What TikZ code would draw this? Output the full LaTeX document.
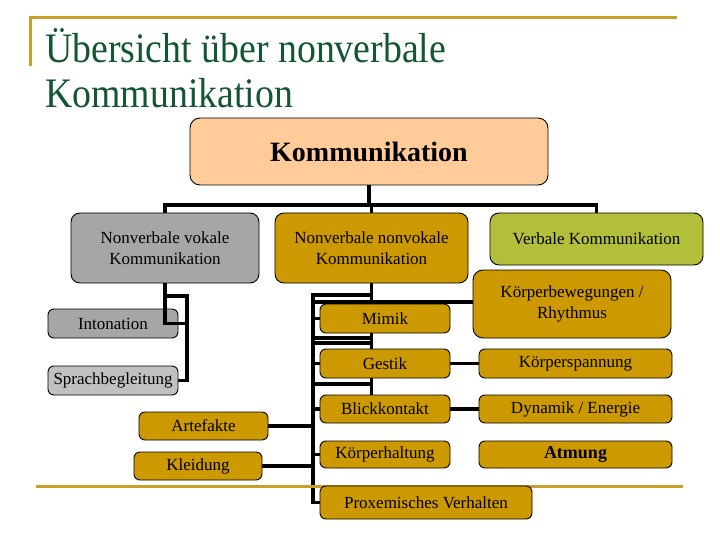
\documentclass[tikz,border=0pt]{standalone}
\usepackage{fontspec}
\setmainfont{Liberation Serif}
\newfontfamily\boxfont{Liberation Serif}
\newfontfamily\titlefont[FakeStretch=0.9]{Liberation Serif}
\usetikzlibrary{backgrounds}
\definecolor{titlegreen}{RGB}{20,85,50}
\definecolor{rulegold}{RGB}{200,160,40}
\definecolor{peach}{RGB}{255,204,153}
\definecolor{boxgold}{RGB}{204,153,0}
\definecolor{boxgray}{RGB}{166,166,166}
\definecolor{boxlightgray}{RGB}{192,192,192}
\definecolor{boxgreen}{RGB}{179,191,59}
\tikzset{
  box/.style={draw=black, line width=0.9pt, rounded corners=6pt, inner sep=0pt,
    align=center, font=\boxfont\fontsize{17}{21}\selectfont, text=black},
  goldbox/.style={box, fill=boxgold},
  conn/.style={draw=black, line width=3.8pt},
  rule/.style={draw=rulegold, line width=3pt},
}
\begin{document}
\begin{tikzpicture}[x=1pt,y=-1pt]
\useasboundingbox (0,0) rectangle (720,540);
% frame rules
\coordinate (r0) at (30,66);
\coordinate (r1) at (30,18);
\coordinate (r2) at (677,18);
\draw[rule] (r0) -- (r1) -- (r2);
\coordinate (b0) at (36,486);
\coordinate (b1) at (683,486);
\draw[rule] (b0) -- (b1);
% title
\node[anchor=base west, inner sep=0pt, text=titlegreen, font=\titlefont\fontsize{42}{45}\selectfont] (title1) at (45,63) {Übersicht über nonverbale};
\node[anchor=base west, inner sep=0pt, text=titlegreen, font=\titlefont\fontsize{42}{45}\selectfont] (title2) at (45,108) {Kommunikation};
% boxes
\node[box, fill=peach, rounded corners=10pt, minimum width=358pt, minimum height=67pt,
  font=\boxfont\fontsize{28}{32}\selectfont\bfseries] (top) at (369,151.5) {Kommunikation};
\node[box, fill=boxgray, rounded corners=9pt, minimum width=188pt, minimum height=70pt] (vocal) at (165,248) {Nonverbale vokale\\Kommunikation};
\node[goldbox, rounded corners=9pt, minimum width=193pt, minimum height=70pt] (nonvok) at (371.5,248) {Nonverbale nonvokale\\Kommunikation};
\node[box, fill=boxgreen, rounded corners=9pt, minimum width=213pt, minimum height=52pt] (verbal) at (596.5,239) {Verbale Kommunikation};
\node[goldbox, rounded corners=10pt, minimum width=198pt, minimum height=68pt] (bew) at (572,304) {Körperbewegungen /\\Rhythmus};
\node[box, fill=boxgray, minimum width=130pt, minimum height=29pt] (inton) at (113,323.5) {Intonation};
\node[box, fill=boxlightgray, minimum width=130pt, minimum height=29pt] (sprach) at (113,380.5) {Sprachbegleitung};
\node[goldbox, minimum width=129pt, minimum height=28pt] (artef) at (203.5,426) {Artefakte};
\node[goldbox, minimum width=128pt, minimum height=28pt] (kleid) at (198,466) {Kleidung};
\node[goldbox, minimum width=130pt, minimum height=29pt] (mimik) at (385,318.5) {Mimik};
\node[goldbox, minimum width=130pt, minimum height=29pt] (gestik) at (385,363.5) {Gestik};
\node[goldbox, minimum width=130pt, minimum height=28pt] (blick) at (385,409) {Blickkontakt};
\node[goldbox, minimum width=130pt, minimum height=27pt] (haltung) at (385,454.5) {Körperhaltung};
\node[goldbox, minimum width=212pt, minimum height=33pt] (prox) at (426,502.5) {Proxemisches Verhalten};
\node[goldbox, minimum width=193pt, minimum height=29pt] (spann) at (575.5,363.5) {Körperspannung};
\node[goldbox, minimum width=193pt, minimum height=28pt] (dyn) at (575.5,409) {Dynamik / Energie};
\node[goldbox, minimum width=193pt, minimum height=27pt, font=\boxfont\fontsize{18}{21}\selectfont\bfseries] (atmung) at (575.5,454.5) {Atmung};
% connectors behind boxes
\begin{scope}[on background layer]
  \coordinate (bus) at (369,205);
  \draw[conn] (top.south) -- (top.south |- bus);
  \draw[conn] (vocal.north) -- (vocal.north |- bus) -| (verbal.north);
  \draw[conn] (nonvok.north) -- (nonvok.north |- bus);
  % vocal branch
  \coordinate (vx) at (187,296);
  \draw[conn] (vocal.south |- vx) -- (vx) |- (sprach.east);
  % nonvocal branch
  \coordinate (bx) at (313,293);
  \draw[conn] (nonvok.south) -- (nonvok.south |- blick.north);
  \draw[conn] (bx) -- (bx |- prox.west) -- (prox.west);
  \coordinate (h1) at (313,295);
  \coordinate (h2) at (313,302);
  \coordinate (h3) at (313,338);
  \coordinate (h4) at (313,343);
  \coordinate (h5) at (313,384);
  \draw[conn] (h1) -- (h1 -| nonvok.south);
  \draw[conn] (h2) -- (h2 -| bew.west);
  \draw[conn] (h3) -- (h3 -| nonvok.south);
  \draw[conn] (h4) -- (h4 -| nonvok.south);
  \draw[conn] (h5) -- (h5 -| nonvok.south);
  \draw[conn] (bx |- mimik.west) -- (mimik.west);
  \draw[conn] (bx |- gestik.west) -- (gestik.west);
  \draw[conn] (bx |- blick.west) -- (blick.west);
  \draw[conn] (bx |- haltung.west) -- (haltung.west);
  \draw[conn] (artef.east) -- (artef.east -| bx);
  \draw[conn] (kleid.east) -- (kleid.east -| bx);
  \draw[conn] (gestik.east) -- (spann.west);
  \draw[conn] (blick.east) -- (dyn.west);
\end{scope}
% connector drawn over the Intonation box
\draw[conn] (vocal.south) -- (vocal.south |- inton.east) -- (vx |- inton.east);
\end{tikzpicture}
\end{document}
